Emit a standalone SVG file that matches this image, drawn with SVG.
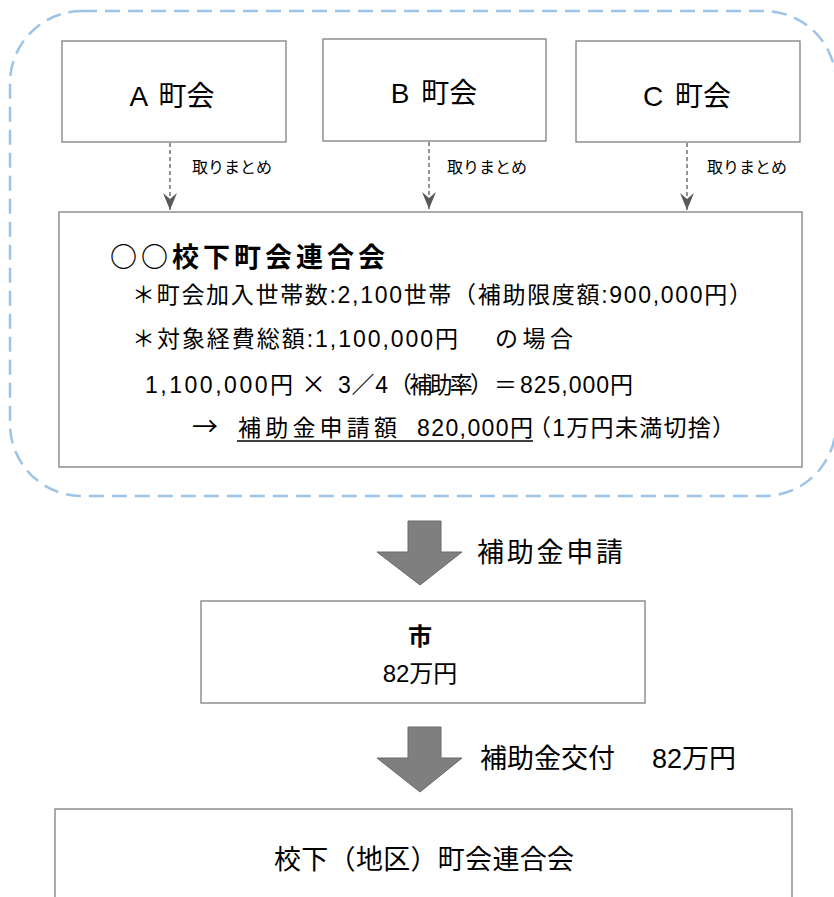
<svg xmlns="http://www.w3.org/2000/svg" width="834" height="897" viewBox="0 0 834 897">
<defs>
<style>
.t{font-family:"Liberation Sans","Noto Sans CJK JP",sans-serif;fill:#000}
.j{font-family:"Noto Sans CJK JP",sans-serif;fill:#000}
.box{fill:#fff;stroke:#7f7f7f;stroke-width:1.3}
.dash{fill:none;stroke:#595959;stroke-width:1.3;stroke-dasharray:4 3}
.big{fill:#7f7f7f;stroke:#6a6a6a;stroke-width:1}
</style>
<marker id="ah" viewBox="-18 -8 19 16" refX="0" refY="0" markerWidth="19" markerHeight="16" markerUnits="userSpaceOnUse" orient="auto">
<path d="M-17,-7 L0,0 L-17,7 L-11,0 Z" fill="#595959"/>
</marker>
</defs>
<rect width="834" height="897" fill="#fff"/>
<rect id="group-outline" x="10" y="11" width="826" height="485" rx="72" ry="72" fill="none" stroke="#9dc3e6" stroke-width="2.5" stroke-dasharray="15 8"/>

<g id="connectors">
<line class="dash" x1="170" y1="143" x2="170" y2="210" marker-end="url(#ah)"/>
<line class="dash" x1="429" y1="142" x2="429" y2="209" marker-end="url(#ah)"/>
<line class="dash" x1="687" y1="143" x2="687" y2="210" marker-end="url(#ah)"/>
<path class="big" d="M408,521 L441,521 L441,552 L462,552 L420,585 L377,552 L408,552 Z"/>
<path class="big" d="M408,727 L441,727 L441,758 L462,758 L420,792 L377,758 L408,758 Z"/>
<text class="t" x="192" y="173" font-size="16">取りまとめ</text>
<text class="t" x="447" y="173" font-size="16">取りまとめ</text>
<text class="t" x="707" y="173" font-size="16">取りまとめ</text>
<text class="t" x="477" y="562" font-size="27" textLength="146" lengthAdjust="spacing">補助金申請</text>
<text class="t" x="480" y="768" font-size="27">補助金交付<tspan x="652">82万円</tspan></text>
</g>

<g id="node-a">
<rect class="box" x="62" y="41" width="224" height="101"/>
<text class="t" x="172" y="106" font-size="28" word-spacing="4" text-anchor="middle">A 町会</text>
</g>
<g id="node-b">
<rect class="box" x="323" y="39" width="223" height="102"/>
<text class="t" x="434" y="103" font-size="28" word-spacing="4" text-anchor="middle">B 町会</text>
</g>
<g id="node-c">
<rect class="box" x="576" y="41" width="224" height="101"/>
<text class="t" x="687" y="106" font-size="28" word-spacing="4" text-anchor="middle">C 町会</text>
</g>

<g id="node-federation">
<rect class="box" x="59" y="212" width="743" height="255"/>
<text class="j" x="110" y="267" font-size="27" font-weight="bold" textLength="275" lengthAdjust="spacing">○○校下町会連合会</text>
<text class="t" x="132" y="303" font-size="23" textLength="620" lengthAdjust="spacing">＊町会加入世帯数:2,100世帯（補助限度額:900,000円）</text>
<text class="t" x="132" y="347" font-size="23" textLength="326" lengthAdjust="spacing">＊対象経費総額:1,100,000円</text>
<text class="t" x="495" y="347" font-size="23" textLength="78" lengthAdjust="spacing">の場合</text>
<text class="t" y="393" font-size="23"><tspan x="145" textLength="148" lengthAdjust="spacing">1,100,000円</tspan><tspan class="j" x="301" font-size="25">×</tspan><tspan x="338" textLength="50" lengthAdjust="spacing">3／4</tspan><tspan x="389" textLength="104" lengthAdjust="spacing">（補助率）</tspan><tspan x="494">＝</tspan><tspan x="520" textLength="113" lengthAdjust="spacing">825,000円</tspan></text>
<text class="t" y="436" font-size="23"><tspan class="j" x="192" font-size="26">→</tspan><tspan x="238" textLength="159" lengthAdjust="spacing">補助金申請額</tspan><tspan x="417" textLength="116" lengthAdjust="spacing">820,000円</tspan><tspan x="528" textLength="207" lengthAdjust="spacing">（1万円未満切捨）</tspan></text>
<line x1="237" y1="441" x2="533" y2="441" stroke="#000" stroke-width="1.3"/>
</g>

<g id="node-city">
<rect class="box" x="201" y="601" width="444" height="102"/>
<text class="t" x="420" y="645" font-size="24" font-weight="bold" text-anchor="middle">市</text>
<text class="t" x="420" y="682" font-size="24" text-anchor="middle">82万円</text>
</g>

<g id="node-district">
<rect class="box" x="55" y="809" width="737" height="100"/>
<text class="t" x="274" y="869" font-size="27" textLength="300" lengthAdjust="spacing">校下（地区）町会連合会</text>
</g>
</svg>
